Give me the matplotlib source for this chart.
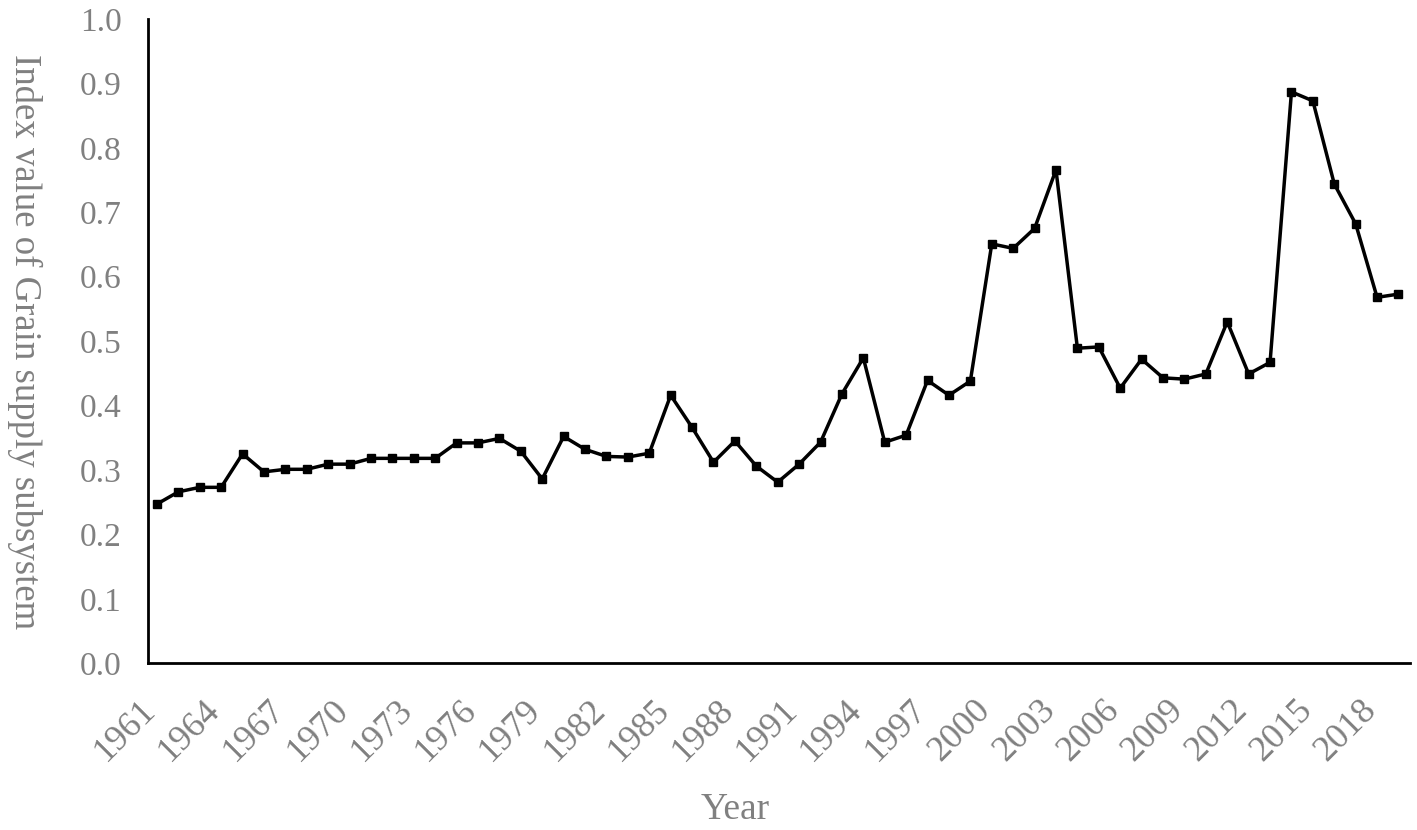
import numpy as np
import matplotlib
matplotlib.use("Agg")
import matplotlib.pyplot as plt
import matplotlib.transforms as mtransforms

years = list(range(1961, 2020))
index_value = [0.247, 0.266, 0.273, 0.273, 0.325, 0.297, 0.301, 0.301, 0.309, 0.309,
               0.318, 0.318, 0.318, 0.318, 0.342, 0.342, 0.349, 0.329, 0.286, 0.352,
               0.332, 0.321, 0.320, 0.326, 0.416, 0.366, 0.312, 0.345, 0.306, 0.281,
               0.309, 0.343, 0.418, 0.474, 0.343, 0.354, 0.439, 0.416, 0.438, 0.651,
               0.644, 0.675, 0.766, 0.489, 0.491, 0.427, 0.472, 0.443, 0.441, 0.449,
               0.530, 0.449, 0.467, 0.887, 0.873, 0.744, 0.682, 0.568, 0.573]
tick_years = years[::3]

gray = "#808080"
plt.rcParams['font.family'] = ['Liberation Serif', 'DejaVu Serif']

fig = plt.figure(figsize=(14.17, 8.30), dpi=100)
ax = fig.add_axes([0.1044, 0.201, 0.891, 0.776])

ax.plot(years, index_value, color="black", lw=2.5, marker="s", ms=6, mfc="black", mec="black")

ax.set_xlim(1960.58, 2019.56)
ax.set_ylim(0, 1.0)
ax.set_yticks(np.arange(0, 1.01, 0.1))
ax.set_yticklabels(["%.1f" % v for v in np.arange(0, 1.01, 0.1)])
ax.set_xticks(tick_years)
ax.set_xticklabels([str(y) for y in tick_years], rotation=45, ha="right", va="center",
                   rotation_mode="anchor")

ax.tick_params(axis="both", length=0, labelcolor=gray)
ax.tick_params(axis="y", pad=19, labelsize=24)
ax.tick_params(axis="x", pad=30, labelsize=26)

# nudge the rotated year labels a little to the left, as in the original
shift = mtransforms.ScaledTranslation(-6 / 100, 0, fig.dpi_scale_trans)
for lab in ax.get_xticklabels():
    lab.set_transform(lab.get_transform() + shift)

for s in ["top", "right"]:
    ax.spines[s].set_visible(False)
for s in ["left", "bottom"]:
    ax.spines[s].set_linewidth(2)
    ax.spines[s].set_color("black")

# axis titles placed like the original (y label reads top to bottom)
fig.text(25 / 1417, 1 - 342 / 830, "Index value of Grain supply subsystem", fontsize=26.5,
         color=gray, rotation=270, ha="center", va="center")
fig.text(735 / 1417, 1 - 810 / 830, "Year", fontsize=27, color=gray, ha="center", va="center")

fig.savefig("out.png", dpi=100)
